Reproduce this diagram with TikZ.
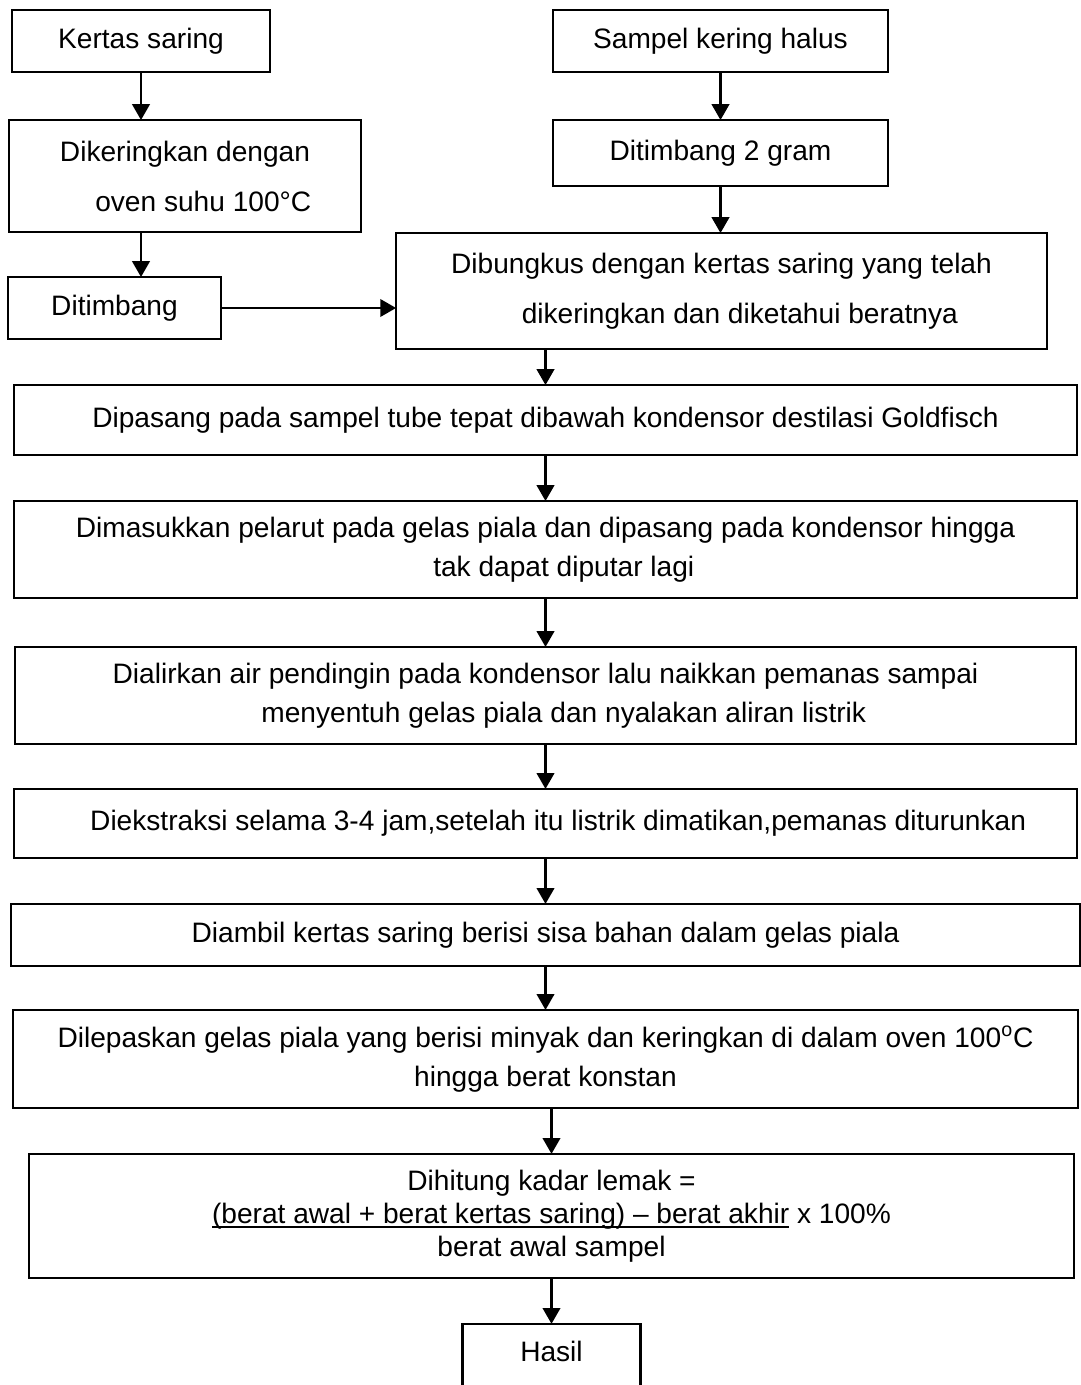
\documentclass[tikz,border=0pt]{standalone}
\usepackage{fontspec}
\setmainfont{Liberation Sans}
\usetikzlibrary{arrows.meta,positioning,calc}

\newcommand{\garisbawah}[1]{\setbox0\hbox{#1}\rlap{\rule[-2.8pt]{\wd0}{1.1pt}}\box0\relax}

\begin{document}
\begin{tikzpicture}[
    x=0.02cm, y=-0.02cm,
    box/.style={rectangle, draw, line width=1.2pt, inner sep=0pt, outer sep=0pt, align=center, font=\fontsize{16}{22.2}\selectfont},
    loose/.style={font=\fontsize{16}{28.5}\selectfont},
    tight/.style={font=\fontsize{16}{18.8}\selectfont},
    arrow/.style={-{Triangle[length=9pt,width=10pt]}, line width=1.2pt},
    node distance=0.92cm
]
\useasboundingbox (0,0) rectangle (1080,1385);

% left column
\node[box, loose, minimum width=5.16cm, minimum height=1.24cm] (kertas) at (141,41) {Kertas saring};
\node[box, loose, minimum width=7.04cm, minimum height=2.24cm] (kering) at (185,176) {Dikeringkan dengan\\\hspace*{1.3em}oven suhu 100°C};
\node[box, loose, minimum width=4.26cm, minimum height=1.24cm] (timbang) at (114.5,308) {Ditimbang};

% right column
\node[box, loose, minimum width=6.70cm, minimum height=1.24cm] (sampel) at (720.5,41) {Sampel kering halus};
\node[box, loose, minimum width=6.70cm, minimum height=1.32cm] (timbangdua) at (720.5,153) {Ditimbang 2 gram};
\node[box, loose, minimum width=13.02cm, minimum height=2.32cm] (bungkus) at (721.5,291) {Dibungkus dengan kertas saring yang telah\\\hspace*{1.3em}dikeringkan dan diketahui beratnya};

% main column
\node[box, minimum width=21.26cm, minimum height=1.40cm] (pasang) at (545.5,420) {Dipasang pada sampel tube tepat dibawah kondensor destilasi Goldfisch};
\node[box, minimum width=21.26cm, minimum height=1.94cm, below=of pasang] (masuk) {Dimasukkan pelarut pada gelas piala dan dipasang pada kondensor hingga\\\hspace*{1.3em}tak dapat diputar lagi};
\node[box, minimum width=21.24cm, minimum height=1.94cm, below=0.98cm of masuk] (alir) {Dialirkan air pendingin pada kondensor lalu naikkan pemanas sampai\\\hspace*{1.3em}menyentuh gelas piala dan nyalakan aliran listrik};
\node[box, minimum width=21.28cm, minimum height=1.38cm, below=0.9cm of alir] (ekstrak) {\hspace*{0.9em}Diekstraksi selama 3-4 jam,setelah itu listrik dimatikan,pemanas diturunkan};
\node[box, minimum width=21.40cm, minimum height=1.24cm, below=of ekstrak] (ambil) {Diambil kertas saring berisi sisa bahan dalam gelas piala};
\node[box, minimum width=21.32cm, minimum height=1.96cm, below=0.88cm of ambil] (lepas) {Dilepaskan gelas piala yang berisi minyak dan keringkan di dalam oven 100\textsuperscript{o}C\\hingga berat konstan};
\node[box, tight, minimum width=20.92cm, minimum height=2.48cm, below=of lepas, xshift=0.12cm] (hitung) {Dihitung kadar lemak =\\\garisbawah{(berat awal + berat kertas saring) – berat akhir} x 100\%\\berat awal sampel};
\node[box, minimum width=3.56cm, minimum height=1.40cm, below=of hitung] (hasil) {\raisebox{-0.06cm}[0pt][0pt]{Hasil}};

\draw[arrow] (kertas.south) -- (kertas.south |- kering.north);
\draw[arrow] (kering.south -| kertas.south) -- (timbang.north -| kertas.south);
\draw[arrow] (timbang.east) -- (timbang.east -| bungkus.west);
\draw[arrow] (sampel) -- (timbangdua);
\draw[arrow] (timbangdua.south) -- (timbangdua.south |- bungkus.north);
\draw[arrow] (bungkus.south -| pasang.north) -- (pasang.north);
\foreach \a/\b in {pasang/masuk, masuk/alir, alir/ekstrak, ekstrak/ambil, ambil/lepas, lepas/hitung, hitung/hasil}
    \draw[arrow] (\a.south -| \b.north) -- (\b.north);

\end{tikzpicture}
\end{document}
